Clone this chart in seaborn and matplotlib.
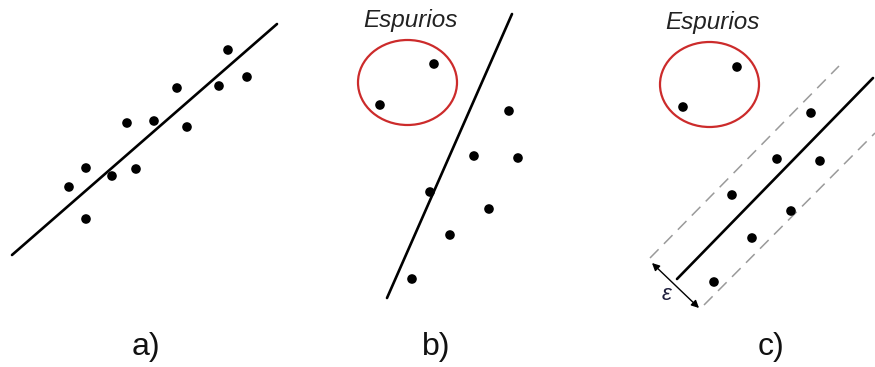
import numpy as np
import pandas as pd
import seaborn as sns
import matplotlib.pyplot as plt
from matplotlib.patches import Ellipse

# Panel a) points and fitted line (pixel coordinates of the figure)
a_x = [228, 247, 219, 177, 154, 127, 187, 86, 136, 112, 69, 86]
a_y = [50, 77, 86, 88, 121, 123, 127, 168, 169, 176, 187, 219]
a_line_x = [12, 277]
a_line_y = [255, 24]

# Panel b) points, bad fit line, outlier ellipse
b_x = [434, 380, 509, 474, 518, 430, 489, 450, 412]
b_y = [64, 105, 111, 156, 158, 192, 209, 235, 279]
b_line_x = [387, 512]
b_line_y = [298, 14]

# Panel c) points, fit line and tolerance band
c_x = [737, 683, 811, 777, 820, 732, 791, 752, 714]
c_y = [67, 107, 113, 159, 161, 195, 211, 238, 282]
c_line_x = [677, 873]
c_line_y = [279, 78]
c_upper_x = [650, 839]
c_upper_y = [258, 66]
c_lower_x = [704, 875]
c_lower_y = [305, 133]

panel_labels = ['a)', 'b)', 'c)']
label_x = [146, 436, 771]
outlier_text = 'Espurios'

sns.set_theme(style='white')
plt.rcParams['font.family'] = ['Liberation Sans', 'DejaVu Sans']

fig = plt.figure(figsize=(8.75, 3.67), dpi=100)
ax = fig.add_axes([0, 0, 1, 1])
ax.set_xlim(0, 875)
ax.set_ylim(367, 0)
ax.axis('off')

# lines
for lx, ly in [(a_line_x, a_line_y), (b_line_x, b_line_y), (c_line_x, c_line_y)]:
    sns.lineplot(x=lx, y=ly, ax=ax, color='black', linewidth=1.9, sort=False)
for lx, ly in [(c_upper_x, c_upper_y), (c_lower_x, c_lower_y)]:
    sns.lineplot(x=lx, y=ly, ax=ax, color='#9a9a9a', linewidth=1.1,
                 sort=False, linestyle=(0, (8, 5)))

# points
pts = pd.DataFrame({'x': a_x + b_x + c_x, 'y': a_y + b_y + c_y})
sns.scatterplot(data=pts, x='x', y='y', ax=ax, color='black', s=48,
                edgecolor='none', zorder=5)

# outlier ellipses
for cx, cy in [(407.5, 82.5), (709.5, 84.5)]:
    ax.add_patch(Ellipse((cx, cy), 99, 85, fill=False,
                         edgecolor='#cc2b2b', linewidth=1.6))
ax.text(410, 21, outlier_text, fontsize=17.5, style='italic',
        ha='center', va='center', color='#222222')
ax.text(712, 23, outlier_text, fontsize=17.5, style='italic',
        ha='center', va='center', color='#222222')

# epsilon arrow
ax.annotate('', xy=(652, 263), xytext=(699, 308),
            arrowprops=dict(arrowstyle='<|-|>', color='black', lw=1.0,
                            mutation_scale=11, shrinkA=0, shrinkB=0))
ax.text(666, 295, 'ε', fontsize=16, style='italic', ha='center',
        va='center', color='#1e1e3c')

for lab, lx in zip(panel_labels, label_x):
    ax.text(lx, 347, lab, fontsize=23, ha='center', va='center',
            color='#111111')

fig.savefig('out.png', dpi=100)
